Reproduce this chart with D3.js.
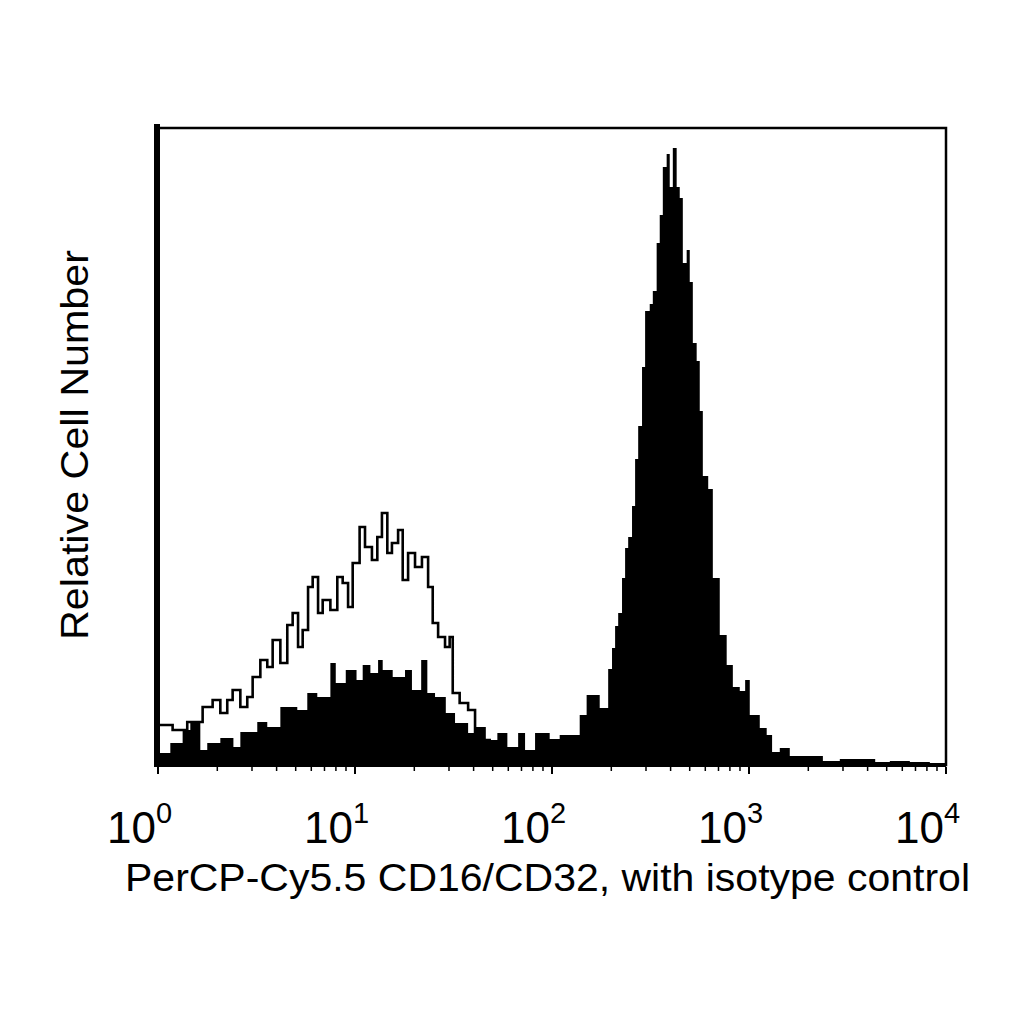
<!DOCTYPE html>
<html>
<head>
<meta charset="utf-8">
<script src="https://cdn.jsdelivr.net/npm/d3@7"></script>
<style>
  body { margin: 0; background: #fff; }
  text { font-family: "Liberation Sans", Arial, sans-serif; fill: #000; }
</style>
</head>
<body>
<div id="chart"></div>
<script>
// channels are on a 1024-channel, 4-decade scale (256 channels per decade)
var stainedChannel = [0,16,32,42,55,64,81,98,107,129,142,159,181,194,207,224,231,244,258,266,276,286,292,305,321,330,342,350,360,374,386,403,412,426,441,454,468,477,490,509,522,548,557,574,585,590,594,598,603,607,611,616,620,624,629,633,639,643,648,652,656,661,665,669,674,678,682,687,691,695,700,704,708,715,721,730,739,747,756,763,769,782,791,798,808,821,834,864,886,908,932,951,977,1003,1024];
var stainedCount = [12,22,35,43,15,22,27,18,33,43,38,58,55,72,68,102,82,95,85,100,92,105,95,88,95,75,105,72,68,52,42,32,38,25,32,18,32,15,32,26,30,50,70,57,96,117,139,152,187,217,228,259,306,339,398,454,461,474,522,550,598,611,578,617,578,567,502,515,483,422,404,354,289,276,187,130,100,78,74,85,50,37,30,13,17,9,9,4,6,6,3,4,3,2,2];

var isoChannel = [0,19,38,58,71,81,90,97,107,116,123,133,142,149,159,168,175,182,188,195,201,208,214,224,233,240,247,253,262,269,278,285,291,298,304,312,318,325,334,343,351,357,364,373,379,383,392,403,412,422,431,444];
var isoCount = [40,35,43,58,65,52,65,75,58,68,88,105,98,125,102,140,152,118,135,178,188,152,165,155,188,182,158,202,238,218,205,228,252,212,222,235,185,212,198,208,178,142,128,118,128,72,62,55,32,25,20,15];

var decades = [0, 1, 2, 3, 4];

var margin = { top: 128, left: 158 };
var width = 788, height = 637;

var svg = d3.select("#chart").append("svg")
  .attr("width", 1024).attr("height", 1024);

var g = svg.append("g")
  .attr("transform", `translate(${margin.left}, ${margin.top})`);

var x = d3.scaleLog().domain([1, 10000]).range([0, width]);
var y = d3.scaleLinear().domain([0, height]).range([height, 0]);

function toValue(ch) { return Math.pow(10, ch / 256); }

var stained = stainedChannel.map((c, i) => ({ v: toValue(c), n: stainedCount[i] }));
var iso = isoChannel.map((c, i) => ({ v: toValue(c), n: isoCount[i] }));

var area = d3.area()
  .x(d => x(d.v)).y0(y(0)).y1(d => y(d.n))
  .curve(d3.curveStepAfter);

var line = d3.line()
  .x(d => x(d.v)).y(d => y(d.n))
  .curve(d3.curveStepAfter);

g.append("path").datum(stained)
  .attr("d", area).attr("fill", "#000");

g.append("path").datum(iso)
  .attr("d", line).attr("fill", "none")
  .attr("stroke", "#000").attr("stroke-width", 2.6);

// frame: thin top/right, heavy left/bottom
g.append("rect").attr("width", width).attr("height", height)
  .attr("fill", "none").attr("stroke", "#000").attr("stroke-width", 2.5);
g.append("line").attr("x1", -1).attr("x2", -1).attr("y1", -4).attr("y2", height + 2)
  .attr("stroke", "#000").attr("stroke-width", 6);
g.append("line").attr("x1", -4).attr("x2", width).attr("y1", height).attr("y2", height)
  .attr("stroke", "#000").attr("stroke-width", 4);

// ticks
var minor = [];
decades.slice(0, 4).forEach(d => {
  for (var k = 2; k <= 9; k++) minor.push(k * Math.pow(10, d));
});
g.selectAll(".minor").data(minor).enter().append("line")
  .attr("x1", d => x(d)).attr("x2", d => x(d))
  .attr("y1", height + 2).attr("y2", height + 6)
  .attr("stroke", "#000").attr("stroke-width", 1.5);
g.selectAll(".major").data(decades).enter().append("line")
  .attr("x1", d => x(Math.pow(10, d))).attr("x2", d => x(Math.pow(10, d)))
  .attr("y1", height + 2).attr("y2", height + 9)
  .attr("stroke", "#000").attr("stroke-width", 2);

var labels = g.selectAll(".lab").data(decades).enter().append("text")
  .attr("x", d => x(Math.pow(10, d)) - 51)
  .attr("y", height + 78)
  .style("font-size", "44px");
labels.append("tspan").text("10");
labels.append("tspan").attr("dy", -20).style("font-size", "29px").text(d => d);

svg.append("text")
  .attr("x", 125).attr("y", 891)
  .attr("textLength", 845).attr("lengthAdjust", "spacingAndGlyphs")
  .style("font-size", "39px")
  .text("PerCP-Cy5.5 CD16/CD32, with isotype control");

svg.append("text")
  .attr("transform", "translate(88, 640) rotate(-90)")
  .attr("textLength", 390).attr("lengthAdjust", "spacingAndGlyphs")
  .style("font-size", "39px")
  .text("Relative Cell Number");
</script>
</body>
</html>
